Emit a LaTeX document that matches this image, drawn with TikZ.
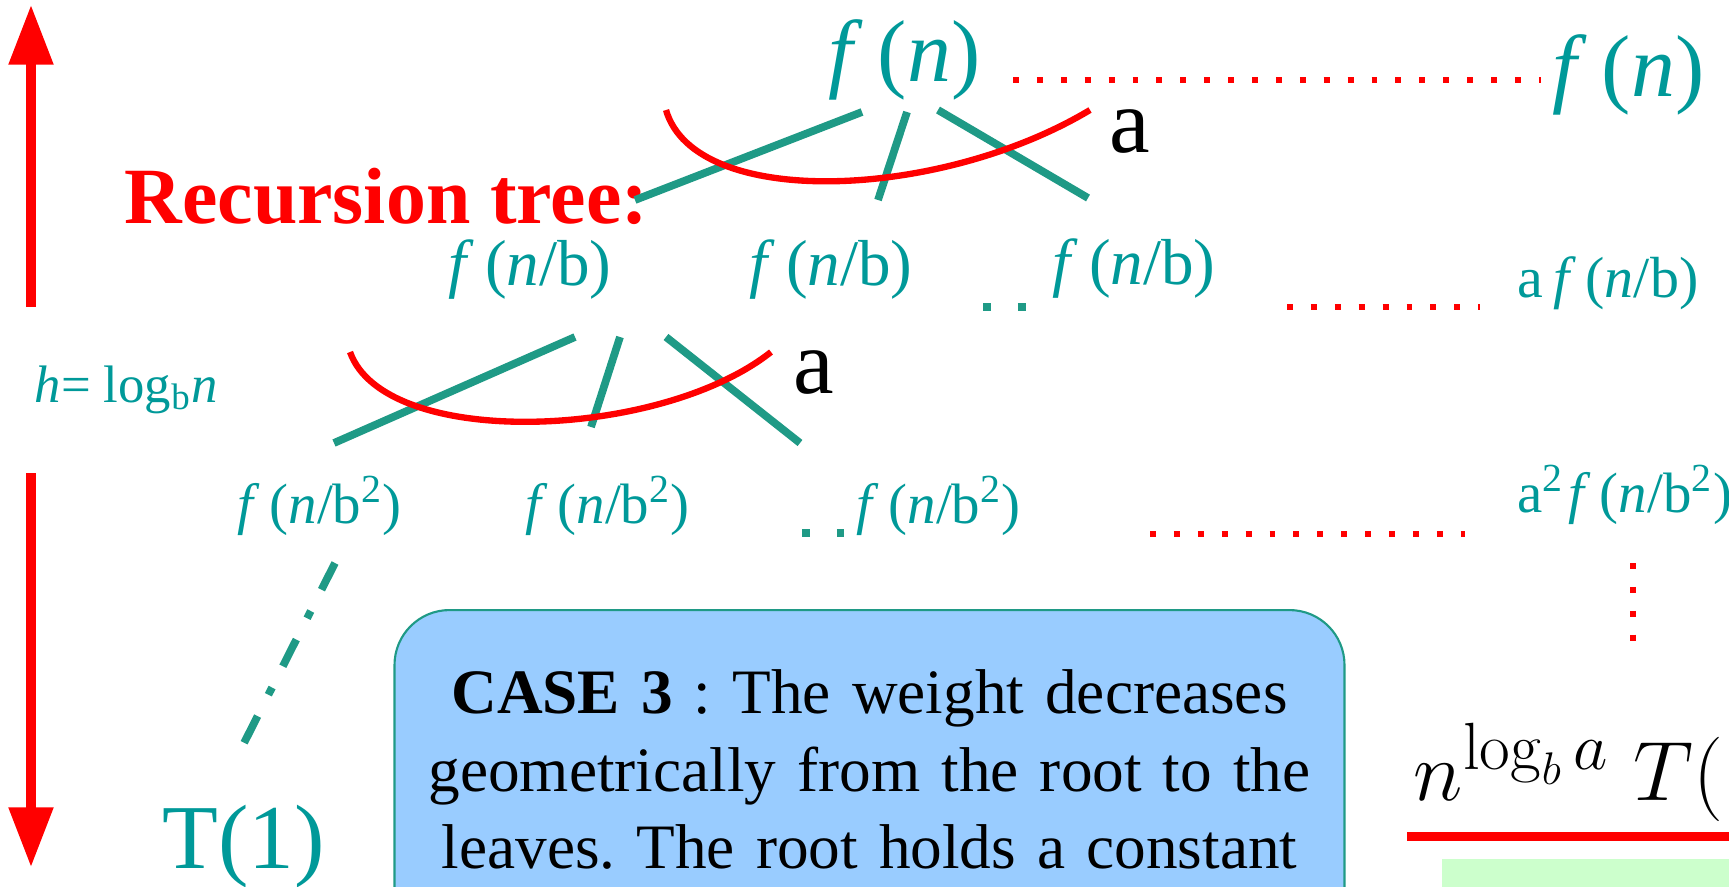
\documentclass[tikz,border=0pt]{standalone}
\usepackage{fix-cm}
\usepackage[no-math]{fontspec}
\setmainfont{Liberation Serif}
\usepackage{tikz}
\usetikzlibrary{arrows.meta}

\definecolor{tealtext}{HTML}{009999}
\definecolor{tealline}{HTML}{1F9A86}
\definecolor{boxblue}{HTML}{99CCFF}
\definecolor{boxgreen}{HTML}{CCFFCC}

\DeclareMathSizes{24}{24}{19}{13}

\newcommand{\fofn}{\textit{f}\,(\textit{n})}
\newcommand{\fofnb}{\textit{f}\,(\textit{n}/b)}
\newcommand{\fofnbb}{\textit{f}\,(\textit{n}/b\textsuperscript{2})}

\begin{document}
\begin{tikzpicture}
    \tikzstyle{term} = [text=tealtext, inner sep=0pt, anchor=base west]
    \tikzstyle{weight} = [text=black, inner sep=0pt, anchor=base west, font=\fontsize{26}{30}\selectfont]
    \tikzstyle{branch} = [draw=tealline, line width=2.2pt]
    \tikzstyle{fan} = [draw=red, line width=1.8pt]
    \tikzstyle{leader} = [draw=red, line width=1.7pt, dash pattern=on 1.7pt off 5.1pt]
    \tikzstyle{ellip} = [draw=tealline, line width=2.3pt, dash pattern=on 2.3pt off 7.6pt]
    \tikzstyle{levelarrow} = [draw=red, line width=2.6pt, -{Triangle[width=12.2pt,length=17pt]}]
    \tikzstyle{casebox} = [anchor=north, draw=tealline, line width=0.6pt, fill=boxblue, rounded corners=0.55cm, text width=9.1cm, align=center, inner xsep=0.2cm, inner ysep=17pt, text depth=3cm, font=\fontsize{18}{22}\selectfont\frenchspacing]

    \useasboundingbox (0,0) rectangle (17.29,-8.86);

    % height arrows
    \coordinate (upfoot) at (0.31,-3.07);
    \coordinate (uptip) at (0.31,-0.05);
    \coordinate (downtop) at (0.31,-4.73);
    \coordinate (downtip) at (0.31,-8.67);
    \draw [levelarrow] (upfoot) -- (uptip);
    \draw [levelarrow] (downtop) -- (downtip);
    \node [term, font=\fontsize{15}{18}\selectfont] (height) at (0.34,-4.02) {\textit{h}= log\textsubscript{b}\textit{n}};

    \node [anchor=base west, inner sep=0pt, text=red, font=\fontsize{22.7}{26}\selectfont\bfseries] (title) at (1.24,-2.23) {Recursion tree:};

    % level 0
    \node [term, font=\fontsize{25}{30}\selectfont] (root) at (8.28,-0.81) {\fofn};
    \node [term, font=\fontsize{25}{30}\selectfont] (sum0) at (15.52,-0.97) {\fofn};
    \node [weight] (a0) at (11.09,-1.52) {a};
    \coordinate (l0s) at (10.13,-0.80);
    \coordinate (l0e) at (15.41,-0.80);
    \draw [leader] (l0s) -- (l0e);

    \coordinate (r1t) at (8.62,-1.12);
    \coordinate (r1b) at (6.35,-2.00);
    \coordinate (r2t) at (9.07,-1.12);
    \coordinate (r2b) at (8.78,-2.00);
    \coordinate (r3t) at (9.38,-1.10);
    \coordinate (r3b) at (10.88,-1.98);
    \draw [branch] (r1t) -- (r1b);
    \draw [branch] (r2t) -- (r2b);
    \draw [branch] (r3t) -- (r3b);
    \coordinate (f0s) at (6.66,-1.10);
    \coordinate (f0e) at (10.90,-1.10);
    \draw [fan] (f0s) .. controls (6.95,-2.10) and (9.40,-2.00) .. (f0e);

    % level 1
    \node [term, font=\fontsize{18.5}{22}\selectfont] (n11) at (4.48,-2.85) {\fofnb};
    \node [term, font=\fontsize{18.5}{22}\selectfont] (n12) at (7.49,-2.85) {\fofnb};
    \node [term, font=\fontsize{18.5}{22}\selectfont] (n13) at (10.52,-2.84) {\fofnb};
    \node [term, font=\fontsize{16.5}{20}\selectfont] (sum1) at (15.17,-2.97) {a\,\fofnb};
    \coordinate (e1s) at (9.83,-3.07);
    \coordinate (e1e) at (10.26,-3.07);
    \draw [ellip] (e1s) -- (e1e);
    \coordinate (l1s) at (12.87,-3.07);
    \coordinate (l1e) at (14.80,-3.07);
    \draw [leader] (l1s) -- (l1e);

    \coordinate (s1t) at (5.75,-3.37);
    \coordinate (s1b) at (3.34,-4.43);
    \coordinate (s2t) at (6.20,-3.37);
    \coordinate (s2b) at (5.91,-4.27);
    \coordinate (s3t) at (6.66,-3.37);
    \coordinate (s3b) at (8.00,-4.43);
    \draw [branch] (s1t) -- (s1b);
    \draw [branch] (s2t) -- (s2b);
    \draw [branch] (s3t) -- (s3b);
    \coordinate (f1s) at (3.50,-3.52);
    \coordinate (f1e) at (7.71,-3.52);
    \draw [fan] (f1s) .. controls (3.85,-4.50) and (6.60,-4.40) .. (f1e);
    \node [weight] (a1) at (7.93,-3.93) {a};

    % level 2
    \node [term, font=\fontsize{16.2}{20}\selectfont] (n21) at (2.37,-5.23) {\fofnbb};
    \node [term, font=\fontsize{16.2}{20}\selectfont] (n22) at (5.25,-5.23) {\fofnbb};
    \node [term, font=\fontsize{16.2}{20}\selectfont] (n23) at (8.56,-5.23) {\fofnbb};
    \node [term, font=\fontsize{16.2}{20}\selectfont] (sum2) at (15.17,-5.12) {a\textsuperscript{2}\kern0.06em\fofnbb};
    \coordinate (e2s) at (8.02,-5.33);
    \coordinate (e2e) at (8.44,-5.33);
    \draw [ellip] (e2s) -- (e2e);
    \coordinate (l2s) at (11.50,-5.34);
    \coordinate (l2e) at (14.65,-5.34);
    \draw [leader] (l2s) -- (l2e);
    \coordinate (v2s) at (16.33,-5.63);
    \coordinate (v2e) at (16.33,-6.41);
    \draw [leader] (v2s) -- (v2e);

    % leaves
    \coordinate (d2t) at (3.35,-5.63);
    \coordinate (d2b) at (2.43,-7.45);
    \draw [branch, dash pattern=on 8.5pt off 6.8pt on 2.3pt off 6.8pt] (d2t) -- (d2b);
    \node [term, font=\fontsize{26}{30}\selectfont] (leaf) at (1.62,-8.68) {T(1)};

    \node [casebox] (case) at (8.695,-6.09) {\textbf{CASE 3} : The weight decreases\\ geometrically from the root to the\\ leaves. The root holds a constant};

    \node [anchor=base west, inner sep=0pt, font=\fontsize{24}{28}\selectfont] (leafsum) at (14.13,-8.00) {$n^{\log_b a}\;T(1)$};
    \coordinate (rs) at (14.07,-8.365);
    \coordinate (re) at (17.40,-8.365);
    \draw [red, line width=2.6pt] (rs) -- (re);
    \fill [boxgreen] (14.42,-8.59) rectangle (17.40,-9.00);
\end{tikzpicture}
\end{document}
